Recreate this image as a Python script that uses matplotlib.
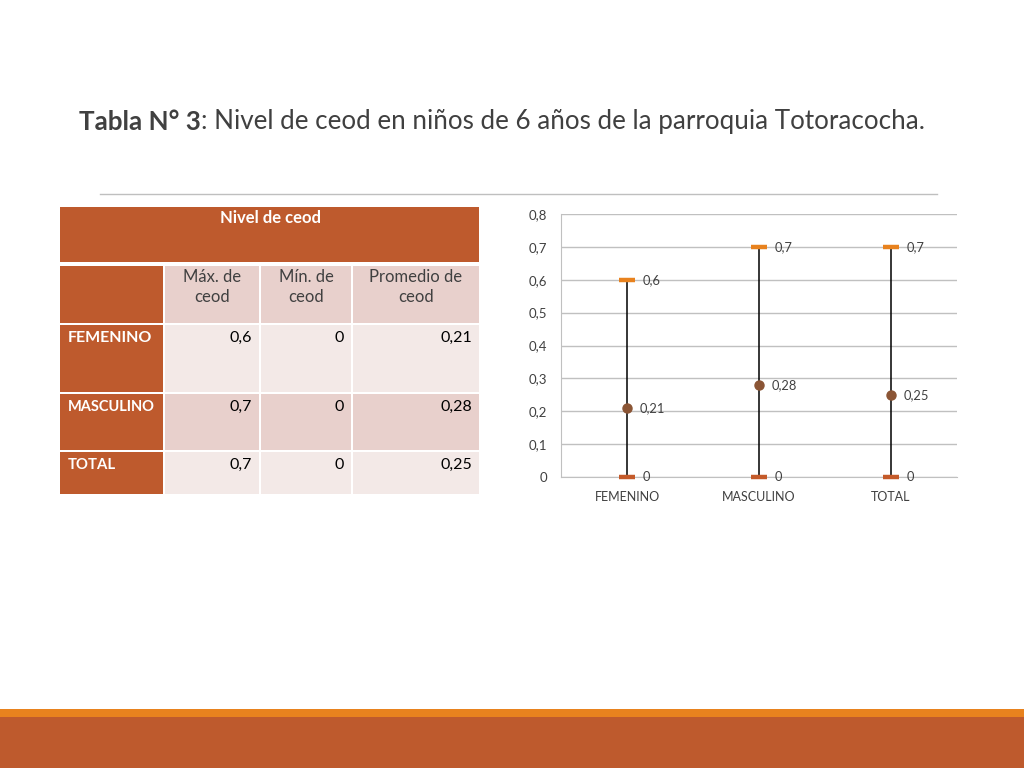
import matplotlib
matplotlib.use("Agg")
import matplotlib.pyplot as plt
from matplotlib.patches import Rectangle

plt.rcParams['font.family'] = ['Lato', 'DejaVu Sans']

categories = ["FEMENINO", "MASCULINO", "TOTAL"]
max_vals = [0.6, 0.7, 0.7]
min_vals = [0.0, 0.0, 0.0]
mean_vals = [0.21, 0.28, 0.25]
yticks = [0, 0.1, 0.2, 0.3, 0.4, 0.5, 0.6, 0.7, 0.8]
col_headers = ["Máx. de\nceod", "Mín. de\nceod", "Promedio de\nceod"]
table_rows = [["0,6", "0", "0,21"], ["0,7", "0", "0,28"], ["0,7", "0", "0,25"]]

def fmt(v):
    return ("%g" % v).replace(".", ",")

RUST = "#BE5A2D"
ORANGE = "#E8821E"
PINK = "#E8D0CC"
LIGHT = "#F3E9E7"
GRAY = "#404040"

fig = plt.figure(figsize=(10.24, 7.68), dpi=100)
bg = fig.add_axes([0, 0, 1, 1], zorder=0)
bg.set_xlim(0, 1024)
bg.set_ylim(768, 0)
bg.axis("off")

# bottom bands
bg.add_patch(Rectangle((0, 709), 1024, 8, color=ORANGE, lw=0))
bg.add_patch(Rectangle((0, 717), 1024, 51, color=RUST, lw=0))

# title
TY = 122
TFS = 18.7
t1 = bg.text(79, TY, "Tabla N° 3", fontsize=TFS, fontweight="bold", color=GRAY, va="center", ha="left")
fig.canvas.draw()
bb = t1.get_window_extent()
xd = bg.transData.inverted().transform((bb.x1, 0))[0]
bg.text(xd, TY, ": Nivel de ceod en niños de 6 años de la parroquia Totoracocha.",
        fontsize=TFS, color=GRAY, va="center", ha="left")

# separator
bg.plot([100, 937], [194, 194], color="#BFBFBF", lw=1)

# table
cols_x = [60, 165, 261, 353, 479]
rows_y = [266, 325, 394, 452, 496]
bg.add_patch(Rectangle((60, 207), 419, 55, color=RUST, lw=0))
bg.text(270, 218, "Nivel de ceod", fontsize=12, fontweight="bold", color="white", ha="center", va="center")
row_labels = [""] + categories
row_label_sizes = [12, 11.5, 10.5, 10.7]
row_fill = [PINK, LIGHT, PINK, LIGHT]
for r in range(4):
    y0, y1 = rows_y[r], rows_y[r + 1] - 2
    bg.add_patch(Rectangle((cols_x[0], y0), cols_x[1] - 2 - cols_x[0], y1 - y0, color=RUST, lw=0))
    if row_labels[r]:
        bg.text(cols_x[0] + 8, y0 + 13, row_labels[r], fontsize=row_label_sizes[r], fontweight="bold",
                color="white", ha="left", va="center")
    for c in range(3):
        xa, xb = cols_x[c + 1], cols_x[c + 2] - 2
        if c == 2:
            xb = cols_x[c + 2]
        bg.add_patch(Rectangle((xa, y0), xb - xa, y1 - y0, color=row_fill[r], lw=0))
        if r == 0:
            bg.text((xa + xb) / 2, y0 + 21, col_headers[c], fontsize=12, color=GRAY,
                    ha="center", va="center", linespacing=1.25)
        else:
            bg.text(xb - 7, y0 + 13, table_rows[r - 1][c], fontsize=11.5, color="black",
                    ha="right", va="center")

# chart
ax = fig.add_axes([561 / 1024, 1 - 477 / 768, 396 / 1024, 263 / 768], zorder=1)
ax.patch.set_alpha(0)
x = list(range(len(categories)))
ax.set_xlim(-0.5, len(categories) - 0.5)
ax.set_ylim(0, 0.8)
ax.set_yticks(yticks)
ax.set_yticklabels([fmt(v) for v in yticks], fontsize=9.5, color=GRAY)
ax.set_xticks(x)
ax.set_xticklabels(categories, fontsize=9, color=GRAY)
ax.tick_params(axis="x", length=0, pad=10)
ax.tick_params(axis="y", length=0, pad=10)
ax.yaxis.grid(True, color="#C0C0C0", lw=1)
ax.set_axisbelow(True)
for s in ["top", "right"]:
    ax.spines[s].set_visible(False)
ax.spines["left"].set_color("#C0C0C0")
ax.spines["bottom"].set_color("#C0C0C0")

for i in x:
    ax.plot([i, i], [min_vals[i], max_vals[i]], color="black", lw=1.1, zorder=2)
ax.plot(x, max_vals, ls="none", marker="_", ms=11.5, mew=3.2, color=ORANGE, zorder=3, clip_on=False)
ax.plot(x, min_vals, ls="none", marker="_", ms=11.5, mew=3.2, color="#C45A2A", zorder=3, clip_on=False)
ax.plot(x, mean_vals, ls="none", marker="o", ms=6.5, color="#8B5535", zorder=3)
for i in x:
    for v, off in ((max_vals[i], 11), (min_vals[i], 11), (mean_vals[i], 9)):
        ax.annotate(fmt(v), (i, v), xytext=(off, 0), textcoords="offset points",
                    fontsize=9.3, color=GRAY, va="center", ha="left")

fig.savefig("out.png", dpi=100)
